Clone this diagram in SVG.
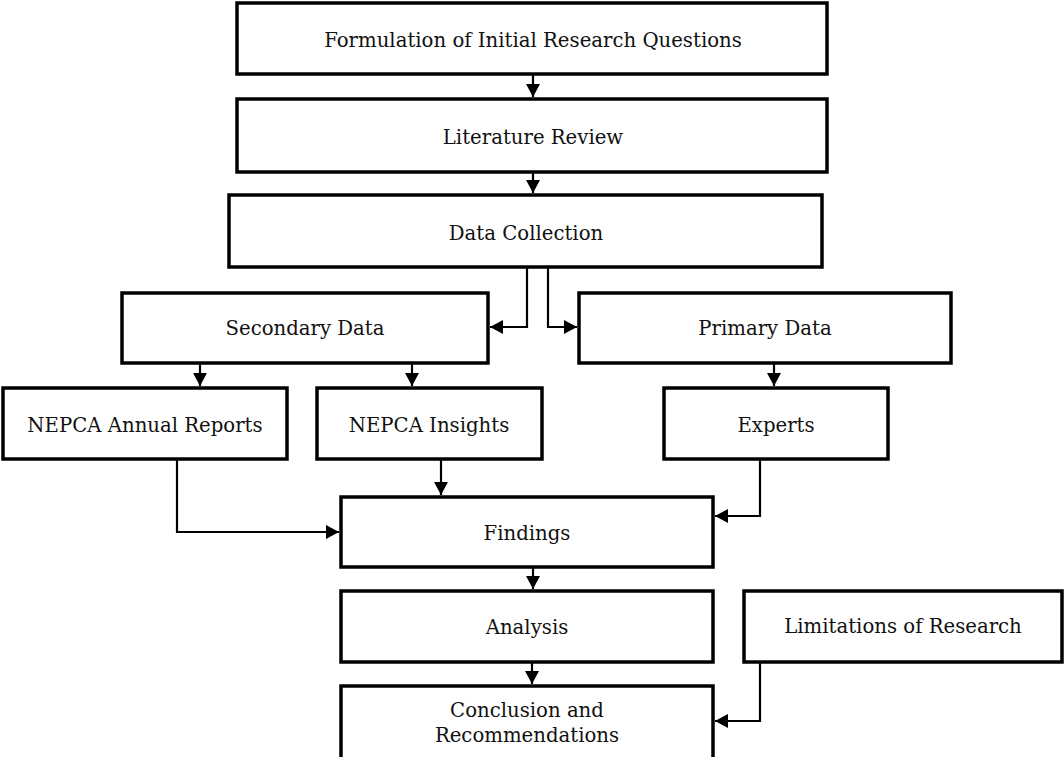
<svg xmlns="http://www.w3.org/2000/svg" width="1064" height="757" viewBox="0 0 1064 757">
<style>
.box{fill:#fff;stroke:#000;stroke-width:3.5}
.lbl{font-family:"DejaVu Serif","Liberation Serif",serif;font-size:19.7px;fill:#111;text-anchor:middle}
.con{fill:none;stroke:#000;stroke-width:2.2}
</style>
<defs>
<marker id="ah" markerUnits="userSpaceOnUse" markerWidth="15" markerHeight="15" viewBox="0 0 15 15" refX="13" refY="7.5" orient="auto">
<path d="M0,0.5 L13,7.5 L0,14.5 Z" fill="#000"/>
</marker>
</defs>
<rect width="1064" height="757" fill="#fff"/>
<g id="n1"><rect class="box" x="237" y="3" width="590" height="71"/><text class="lbl" x="533" y="47">Formulation of Initial Research Questions</text></g>
<g id="n2"><rect class="box" x="237" y="99" width="590" height="73"/><text class="lbl" x="533" y="144">Literature Review</text></g>
<g id="n3"><rect class="box" x="229" y="195" width="593" height="72"/><text class="lbl" x="526" y="240">Data Collection</text></g>
<g id="n4"><rect class="box" x="122" y="293" width="366" height="70"/><text class="lbl" x="305" y="335">Secondary Data</text></g>
<g id="n5"><rect class="box" x="579" y="293" width="372" height="70"/><text class="lbl" x="765" y="335">Primary Data</text></g>
<g id="n6"><rect class="box" x="3" y="388" width="284" height="71"/><text class="lbl" x="145" y="432">NEPCA Annual Reports</text></g>
<g id="n7"><rect class="box" x="317" y="388" width="225" height="71"/><text class="lbl" x="429" y="432">NEPCA Insights</text></g>
<g id="n8"><rect class="box" x="664" y="388" width="224" height="71"/><text class="lbl" x="776" y="432">Experts</text></g>
<g id="n9"><rect class="box" x="341" y="497" width="372" height="70"/><text class="lbl" x="527" y="540">Findings</text></g>
<g id="n10"><rect class="box" x="341" y="591" width="372" height="71"/><text class="lbl" x="527" y="634">Analysis</text></g>
<g id="n11"><rect class="box" x="744" y="591" width="318" height="71"/><text class="lbl" x="903" y="633">Limitations of Research</text></g>
<g id="n12"><rect class="box" x="341" y="686" width="372" height="76"/><text class="lbl" x="527" y="717">Conclusion and</text><text class="lbl" x="527" y="742">Recommendations</text></g>
<g id="connectors">
<path class="con" marker-end="url(#ah)" d="M533,74 V97"/>
<path class="con" marker-end="url(#ah)" d="M533,172 V193"/>
<path class="con" marker-end="url(#ah)" d="M527,267 V327 H490"/>
<path class="con" marker-end="url(#ah)" d="M548,267 V327 H577"/>
<path class="con" marker-end="url(#ah)" d="M200,363 V386"/>
<path class="con" marker-end="url(#ah)" d="M412,363 V386"/>
<path class="con" marker-end="url(#ah)" d="M774,363 V386"/>
<path class="con" marker-end="url(#ah)" d="M177,459 V532 H339"/>
<path class="con" marker-end="url(#ah)" d="M441,459 V495"/>
<path class="con" marker-end="url(#ah)" d="M760,459 V516 H715"/>
<path class="con" marker-end="url(#ah)" d="M533,567 V589"/>
<path class="con" marker-end="url(#ah)" d="M532,662 V684"/>
<path class="con" marker-end="url(#ah)" d="M760,662 V721 H715"/>
</g>
</svg>
